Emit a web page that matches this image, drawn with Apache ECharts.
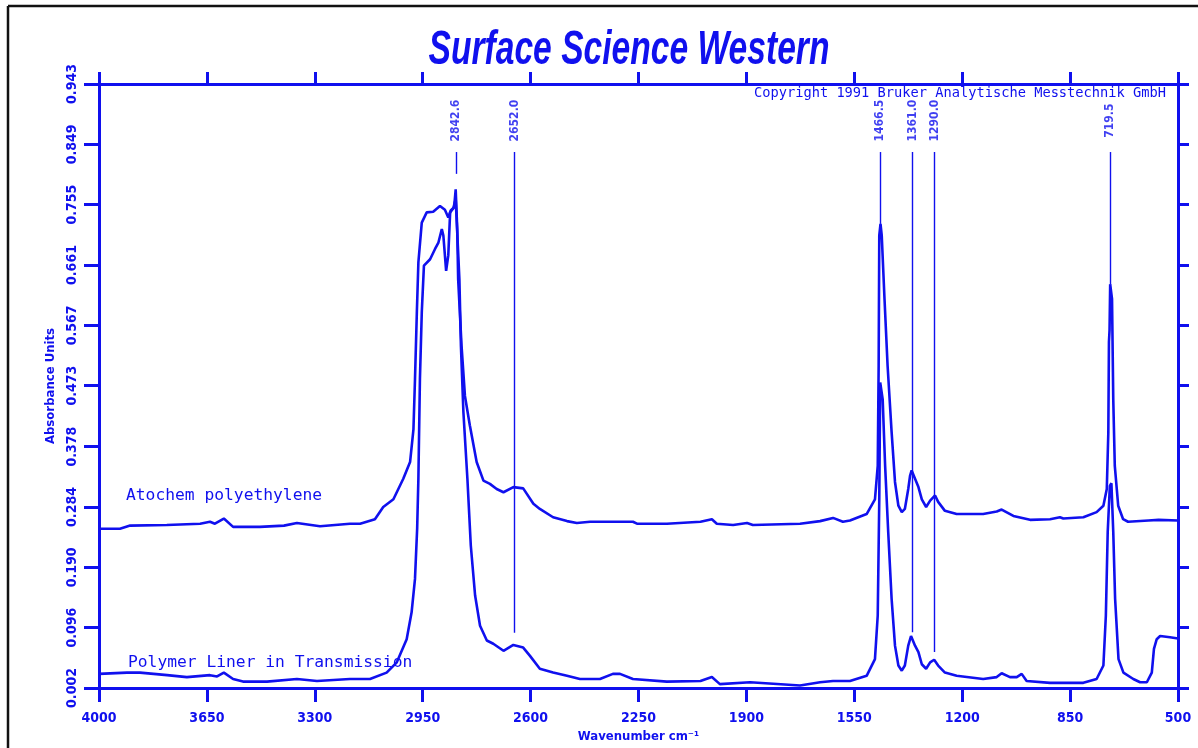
<!DOCTYPE html>
<html>
<head>
<meta charset="utf-8">
<title>Surface Science Western</title>
<script src="https://cdn.jsdelivr.net/npm/echarts@6.0.0/dist/echarts.min.js"></script>
<style>
  html, body { margin: 0; padding: 0; background: #fff; }
  #main { width: 1198px; height: 748px; }
</style>
</head>
<body>
<div id="main"></div>
<script>
// spectrum 1 : Atochem polyethylene
const atochemWavenumber = [4000, 3932, 3899, 3780, 3672, 3640, 3624, 3595, 3565, 3478, 3400, 3358, 3283, 3186, 3153, 3105, 3078, 3045, 3013, 2991, 2980, 2975, 2969, 2964, 2953, 2937, 2916, 2894, 2878, 2867, 2859, 2848, 2843, 2838, 2835, 2824, 2813, 2797, 2775, 2753, 2732, 2710, 2688, 2656, 2624, 2591, 2570, 2527, 2482, 2450, 2407, 2375, 2268, 2255, 2158, 2049, 2012, 1996, 1943, 1898, 1879, 1726, 1661, 1619, 1587, 1564, 1510, 1483, 1474, 1471, 1469, 1465, 1461, 1452, 1442, 1429, 1418, 1407, 1396, 1386, 1375, 1369, 1364, 1353, 1342, 1331, 1317, 1304, 1288, 1278, 1256, 1218, 1132, 1088, 1072, 1034, 980, 915, 883, 872, 807, 764, 742, 731, 726, 724, 722, 720, 714, 710, 705, 694, 678, 662, 596, 563, 500]
const atochemAbsorbance = [0.250, 0.250, 0.255, 0.256, 0.258, 0.261, 0.258, 0.266, 0.253, 0.253, 0.255, 0.259, 0.254, 0.258, 0.258, 0.265, 0.284, 0.296, 0.328, 0.354, 0.405, 0.483, 0.587, 0.665, 0.727, 0.743, 0.744, 0.753, 0.747, 0.735, 0.746, 0.751, 0.779, 0.717, 0.639, 0.535, 0.457, 0.411, 0.354, 0.325, 0.320, 0.312, 0.307, 0.315, 0.313, 0.289, 0.281, 0.268, 0.262, 0.259, 0.261, 0.261, 0.261, 0.258, 0.258, 0.261, 0.265, 0.258, 0.256, 0.259, 0.256, 0.258, 0.262, 0.267, 0.261, 0.263, 0.273, 0.296, 0.348, 0.504, 0.707, 0.725, 0.707, 0.608, 0.504, 0.401, 0.323, 0.286, 0.276, 0.281, 0.312, 0.333, 0.341, 0.328, 0.315, 0.296, 0.284, 0.294, 0.302, 0.292, 0.278, 0.273, 0.273, 0.277, 0.280, 0.270, 0.264, 0.265, 0.268, 0.266, 0.268, 0.276, 0.286, 0.312, 0.400, 0.541, 0.560, 0.631, 0.608, 0.452, 0.348, 0.286, 0.265, 0.261, 0.263, 0.264, 0.263]

// spectrum 2 : Polymer Liner in Transmission
const linerWavenumber = [4000, 3909, 3867, 3779, 3715, 3640, 3617, 3595, 3565, 3533, 3455, 3358, 3293, 3186, 3121, 3067, 3034, 3002, 2986, 2975, 2968, 2964, 2959, 2953, 2946, 2926, 2910, 2899, 2888, 2883, 2874, 2867, 2861, 2851, 2843, 2831, 2826, 2818, 2805, 2794, 2780, 2764, 2742, 2721, 2688, 2656, 2624, 2602, 2570, 2527, 2482, 2440, 2375, 2333, 2310, 2268, 2158, 2049, 2012, 1986, 1888, 1726, 1661, 1619, 1564, 1510, 1483, 1474, 1469, 1466, 1462, 1458, 1450, 1440, 1429, 1418, 1407, 1396, 1386, 1375, 1366, 1353, 1342, 1331, 1317, 1304, 1291, 1278, 1256, 1218, 1132, 1088, 1072, 1045, 1023, 1007, 991, 915, 807, 764, 742, 734, 728, 721, 716, 710, 704, 693, 677, 645, 623, 601, 585, 578, 569, 558, 526, 500]
const linerAbsorbance = [0.024, 0.026, 0.026, 0.022, 0.019, 0.022, 0.020, 0.026, 0.016, 0.012, 0.012, 0.016, 0.013, 0.016, 0.016, 0.026, 0.042, 0.078, 0.120, 0.172, 0.250, 0.328, 0.483, 0.587, 0.660, 0.670, 0.686, 0.696, 0.717, 0.707, 0.652, 0.676, 0.743, 0.749, 0.764, 0.639, 0.535, 0.432, 0.328, 0.224, 0.146, 0.099, 0.076, 0.071, 0.060, 0.069, 0.065, 0.052, 0.032, 0.026, 0.021, 0.016, 0.016, 0.024, 0.024, 0.016, 0.012, 0.013, 0.019, 0.008, 0.011, 0.006, 0.011, 0.013, 0.013, 0.021, 0.047, 0.115, 0.296, 0.478, 0.479, 0.452, 0.348, 0.245, 0.141, 0.068, 0.037, 0.029, 0.037, 0.068, 0.083, 0.068, 0.058, 0.039, 0.032, 0.042, 0.046, 0.037, 0.026, 0.021, 0.016, 0.019, 0.025, 0.019, 0.019, 0.024, 0.013, 0.010, 0.010, 0.016, 0.037, 0.115, 0.245, 0.317, 0.321, 0.245, 0.141, 0.047, 0.026, 0.016, 0.011, 0.011, 0.026, 0.063, 0.078, 0.083, 0.081, 0.079]

// peak picks
const peakWavenumbers = [2842.6, 2652.0, 1466.5, 1361.0, 1290.0, 719.5]
const peakLabels = ['2842.6', '2652.0', '1466.5', '1361.0', '1290.0', '719.5']
const peakLineBottom = [0.803, 0.088, 0.725, 0.089, 0.058, 0.631]
const peakLineTop = 0.837
const peakLabelY = 0.886

// axes
const xTicks = [4000, 3650, 3300, 2950, 2600, 2250, 1900, 1550, 1200, 850, 500]
const yTicks = [0.002, 0.096, 0.190, 0.284, 0.378, 0.473, 0.567, 0.661, 0.755, 0.849, 0.943]
const yTickLabels = ['0.002', '0.096', '0.190', '0.284', '0.378', '0.473', '0.567', '0.661', '0.755', '0.849', '0.943']

const blue = '#1010ee'
const narrow = "'Liberation Sans Narrow', 'DejaVu Sans Condensed', sans-serif"
const mono = "'DejaVu Sans Mono', 'Liberation Mono', monospace"

function zip(xs, ys) {
    return xs.map((x, i) => [x, ys[i]])
}

var myChart = echarts.init(document.getElementById('main'))

var axisLineStyle = { color: blue, width: 3 }

var option = {
    animation: false,
    backgroundColor: '#fff',
    grid: { left: 99, right: 20, top: 84, bottom: 59 },
    xAxis: [
        {
            type: 'value', min: 500, max: 4000, inverse: true, position: 'bottom',
            axisLine: { lineStyle: axisLineStyle },
            axisTick: { customValues: xTicks, length: 14, lineStyle: axisLineStyle },
            axisLabel: {
                customValues: xTicks, margin: 23, color: blue,
                fontFamily: narrow, fontWeight: 'bold', fontSize: 14,
                formatter: v => String(v)
            },
            splitLine: { show: false },
            name: 'Wavenumber cm⁻¹', nameLocation: 'middle', nameGap: 42,
            nameTextStyle: { color: blue, fontFamily: narrow, fontWeight: 'bold', fontSize: 13 }
        },
        {
            type: 'value', min: 500, max: 4000, inverse: true, position: 'top',
            axisLine: { lineStyle: axisLineStyle },
            axisTick: { customValues: xTicks, length: 12, lineStyle: axisLineStyle },
            axisLabel: { show: false },
            splitLine: { show: false }
        }
    ],
    yAxis: [
        {
            type: 'value', min: 0.002, max: 0.943, position: 'left',
            axisLine: { lineStyle: axisLineStyle },
            axisTick: { customValues: yTicks, length: 15, lineStyle: axisLineStyle },
            axisLabel: {
                customValues: yTicks, rotate: 90, margin: 20, color: blue,
                fontFamily: narrow, fontWeight: 'bold', fontSize: 14,
                formatter: v => yTickLabels[yTicks.indexOf(v)] || v.toFixed(3)
            },
            splitLine: { show: false },
            name: 'Absorbance Units', nameLocation: 'middle', nameRotate: 90, nameGap: 38,
            nameTextStyle: { color: blue, fontFamily: narrow, fontWeight: 'bold', fontSize: 13 }
        },
        {
            type: 'value', min: 0.002, max: 0.943, position: 'right',
            axisLine: { lineStyle: axisLineStyle },
            axisTick: { customValues: yTicks, length: 11, lineStyle: axisLineStyle },
            axisLabel: { show: false },
            splitLine: { show: false }
        }
    ],
    series: [
        {
            name: 'Atochem polyethylene', type: 'line', showSymbol: false, symbol: 'none',
            data: zip(atochemWavenumber, atochemAbsorbance),
            lineStyle: { color: blue, width: 2.6 },
            markLine: {
                silent: true, symbol: ['none', 'none'],
                label: { show: false },
                lineStyle: { color: blue, width: 1.4, type: 'solid' },
                data: peakWavenumbers.map((w, i) => [
                    { coord: [w, peakLineTop] },
                    { coord: [w, peakLineBottom[i]] }
                ])
            }
        },
        {
            name: 'Polymer Liner in Transmission', type: 'line', showSymbol: false, symbol: 'none',
            data: zip(linerWavenumber, linerAbsorbance),
            lineStyle: { color: blue, width: 2.6 }
        },
        {
            name: 'peaks', type: 'scatter', symbolSize: 0, silent: true,
            data: peakWavenumbers.map((w, i) => [w, peakLabelY, peakLabels[i]]),
            label: {
                show: true, position: 'inside', rotate: 90, color: blue,
                fontFamily: narrow, fontWeight: 'bold', fontSize: 12,
                formatter: p => p.data[2]
            }
        }
    ],
    graphic: [
        { type: 'line', shape: { x1: 8, y1: 6, x2: 1198, y2: 6 }, style: { stroke: '#111', lineWidth: 2.5 } },
        { type: 'line', shape: { x1: 8, y1: 6, x2: 8, y2: 748 }, style: { stroke: '#111', lineWidth: 2.5 } },
        {
            type: 'text', x: 629, y: 51, scaleX: 0.7,
            style: {
                text: 'Surface Science Western', fill: blue, textAlign: 'center', textVerticalAlign: 'middle',
                font: "italic bold 48px 'Liberation Sans', Arial, sans-serif"
            }
        },
        {
            type: 'text', x: 1166, y: 93,
            style: {
                text: 'Copyright 1991 Bruker Analytische Messtechnik GmbH', fill: blue,
                textAlign: 'right', textVerticalAlign: 'middle', font: '13.7px ' + mono
            }
        },
        {
            type: 'text', x: 126, y: 496,
            style: { text: 'Atochem polyethylene', fill: blue, textVerticalAlign: 'middle', font: '16.3px ' + mono }
        },
        {
            type: 'text', x: 128, y: 663,
            style: { text: 'Polymer Liner in Transmission', fill: blue, textVerticalAlign: 'middle', font: '16.3px ' + mono }
        }
    ]
}

myChart.setOption(option)
</script>
</body>
</html>
